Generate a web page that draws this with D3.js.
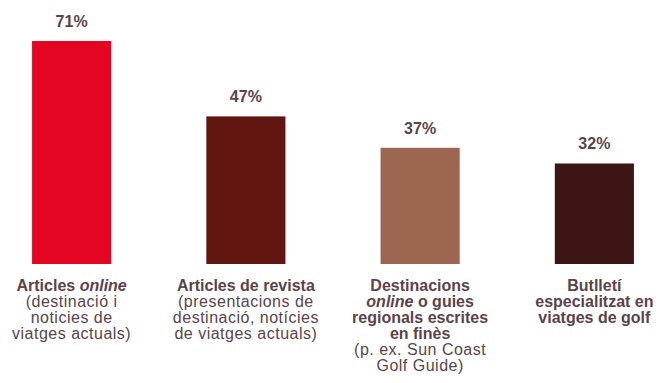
<!DOCTYPE html>
<html lang="ca">
<head>
<meta charset="utf-8">
<style>
  body { margin: 0; background: #fff; }
  svg text { font-family: "Liberation Sans", Arial, sans-serif; fill: #5b4449; }
  .value { font-size: 16px; font-weight: bold; }
  .cat { font-size: 16px; }
</style>
</head>
<body>
<svg width="658" height="383"></svg>
<script src="https://cdn.jsdelivr.net/npm/d3@7"></script>
<script>
// chart data
var categories = ["Articles online", "Articles de revista", "Destinacions online o guies", "Butlletí especialitzat"];
var values = [71, 47, 37, 32];
var colors = ["#e30521", "#611610", "#9c6651", "#3e1515"];

// label lines: each line is a list of [text, bold, italic] runs
var labelLines = [
  [
    [["Articles ", true, false], ["online", true, true]],
    [["(destinació i", false, false]],
    [["noticies de", false, false]],
    [["viatges actuals)", false, false]]
  ],
  [
    [["Articles de revista", true, false]],
    [["(presentacions de", false, false]],
    [["destinació, notícies", false, false]],
    [["de viatges actuals)", false, false]]
  ],
  [
    [["Destinacions", true, false]],
    [["online", true, true], [" o guies", true, false]],
    [["regionals escrites", true, false]],
    [["en finès", true, false]],
    [["(p. ex. Sun Coast", false, false]],
    [["Golf Guide)", false, false]]
  ],
  [
    [["Butlletí", true, false]],
    [["especialitzat en", true, false]],
    [["viatges de golf", true, false]]
  ]
];

var svg = d3.select("svg");
var baseline = 264;

var x = d3.scaleBand()
    .domain(categories)
    .range([-15.5, 681.5])
    .paddingInner(0.546)
    .paddingOuter(0.273);

var y = d3.scaleLinear()
    .domain([0, 71])
    .range([baseline, 41]);

var g = svg.selectAll(".bar-group")
    .data(categories)
    .enter()
    .append("g")
    .attr("class", "bar-group");

g.append("rect")
    .attr("x", function (d) { return x(d); })
    .attr("width", x.bandwidth())
    .attr("y", function (d, i) { return y(values[i]); })
    .attr("height", function (d, i) { return baseline - y(values[i]); })
    .attr("fill", function (d, i) { return colors[i]; });

g.append("text")
    .attr("class", "value")
    .attr("text-anchor", "middle")
    .attr("x", function (d) { return x(d) + x.bandwidth() / 2; })
    .attr("y", function (d, i) { return y(values[i]) - 14; })
    .text(function (d, i) { return values[i] + "%"; });

g.each(function (d, i) {
    var cx = x(d) + x.bandwidth() / 2;
    var t = d3.select(this).append("text")
        .attr("class", "cat")
        .attr("text-anchor", "middle");
    labelLines[i].forEach(function (line, j) {
        line.forEach(function (run, k) {
            var ts = t.append("tspan")
                .text(run[0])
                .style("font-weight", run[1] ? "bold" : "normal")
                .style("font-style", run[2] ? "italic" : "normal")
                .style("letter-spacing", run[1] ? "0px" : "0.5px");
            if (k === 0) ts.attr("x", cx).attr("y", 291 + j * 16);
        });
    });
});
</script>
</body>
</html>
